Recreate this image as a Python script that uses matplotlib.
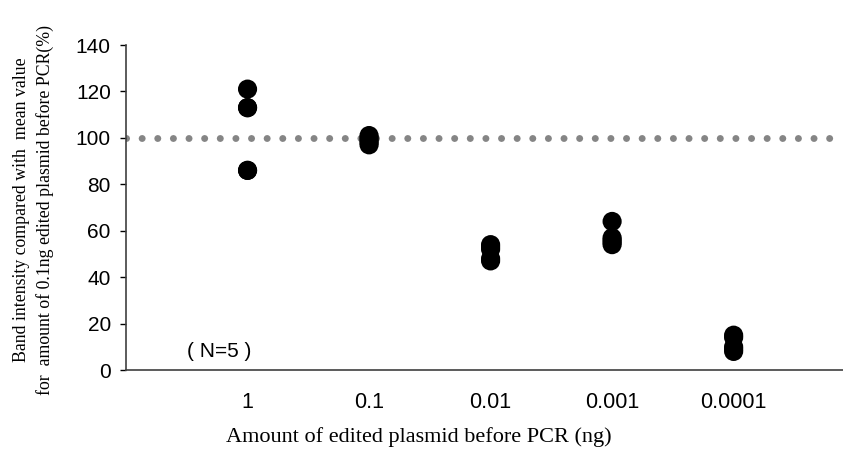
import matplotlib.pyplot as plt

# amounts of edited plasmid (ng) shown as categories
amounts = ["1", "0.1", "0.01", "0.001", "0.0001"]

# band intensity (%) relative to the 0.1 ng mean, N=5 per group
vals_1 = [121, 113, 113, 86, 86]
vals_01 = [101, 100, 99, 98, 97]
vals_001 = [54, 53, 52, 48, 47]
vals_0001 = [64, 57, 56, 55, 54]
vals_00001 = [15, 14, 10, 9, 8]

reference = 100
yticks = [0, 20, 40, 60, 80, 100, 120, 140]

groups = [vals_1, vals_01, vals_001, vals_0001, vals_00001]

fig = plt.figure(figsize=(8.43, 4.51), dpi=100)
ax = fig.add_axes([0.1495, 0.1796, 0.8505, 0.7206])

# dotted reference line at 100 %
ax.axhline(reference, color='#858585', linewidth=5.0, linestyle=(0, (0.01, 2.24)),
           dash_capstyle='round', zorder=1)

for i, vals in enumerate(groups):
    ax.scatter([i + 1] * len(vals), vals, s=190, color='black',
               edgecolors='none', zorder=3)

ax.set_xlim(0, 5.9)
ax.set_ylim(0, 140)
ax.set_xticks(range(1, len(amounts) + 1))
ax.set_xticklabels(amounts, fontsize=15.5, family='Liberation Sans')
ax.set_yticks(yticks)
ax.set_yticklabels([str(t) for t in yticks], fontsize=15, family='Liberation Sans')
ax.tick_params(axis='x', length=0, pad=16)
ax.tick_params(axis='y', length=4, width=1, pad=7)

for side in ['top', 'right']:
    ax.spines[side].set_visible(False)
for side in ['left', 'bottom']:
    ax.spines[side].set_color('#404040')
    ax.spines[side].set_linewidth(1.2)

ax.text(0.5, 8, '( N=5 )', fontsize=15, family='Liberation Sans', va='center')

fig.text(0.497, 0.03, 'Amount of edited plasmid before PCR (ng)',
         fontsize=16, family='Liberation Serif', ha='center', va='center')
fig.text(0.04, 0.535, 'Band intensity compared with  mean value\n'
         'for  amount of 0.1ng edited plasmid before PCR(%)',
         fontsize=12.8, family='Liberation Serif', rotation=90,
         ha='center', va='center', linespacing=1.4)

plt.savefig('out.png', dpi=100)
